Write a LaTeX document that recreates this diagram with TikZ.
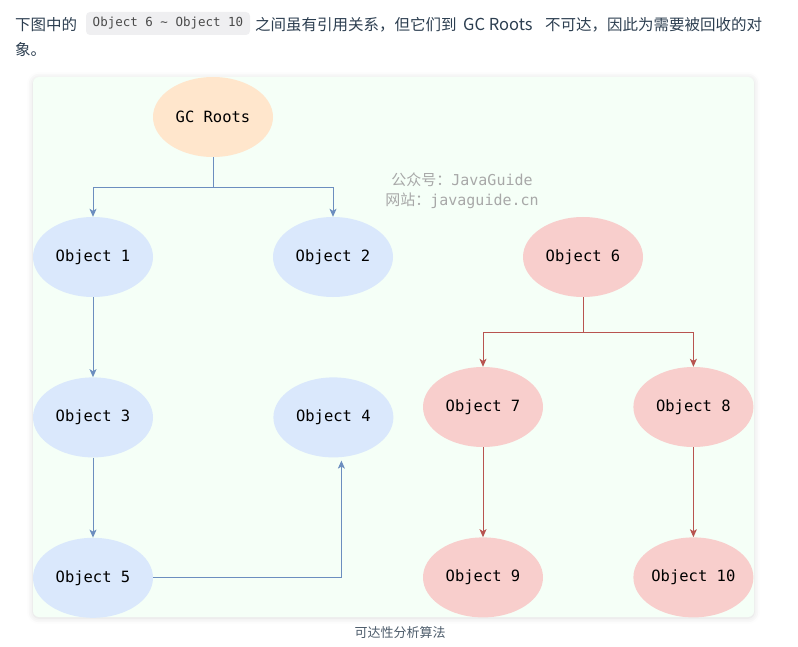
\documentclass[tikz,border=0pt]{standalone}
\usepackage{fontspec}
\usepackage{tikz}
\usetikzlibrary{
  arrows.meta,
  positioning,
  shapes.geometric,
  shadows.blur
}
\newfontfamily\cjkfont{Noto Sans CJK SC}
\newfontfamily\objfont{DejaVu Sans Mono}
\definecolor{bodytext}{HTML}{2C3E50}
\definecolor{codebg}{HTML}{EFEFF1}
\definecolor{codetext}{HTML}{4A4A4A}
\definecolor{panelbg}{HTML}{F5FFF7}
\definecolor{rootfill}{HTML}{FFE6CC}
\definecolor{bluefill}{HTML}{DAE8FC}
\definecolor{blueline}{HTML}{6C8EBF}
\definecolor{redfill}{HTML}{F8CECC}
\definecolor{redline}{HTML}{B85450}
\definecolor{watermark}{HTML}{A8A8A8}

\begin{document}
\begin{tikzpicture}[
  x=1pt, y=1pt,
  node distance=80pt and 120pt,
  para/.style={inner sep=0pt, anchor=base west, text=bodytext, font=\cjkfont\fontsize{15.5}{20}\selectfont},
  obj/.style={ellipse, minimum width=120pt, minimum height=80pt, inner xsep=-8pt, inner ysep=0pt, font=\objfont\fontsize{15.5}{18}\selectfont},
  root/.style={obj, fill=rootfill},
  live/.style={obj, fill=bluefill},
  dead/.style={obj, fill=redfill},
  livearrow/.style={draw=blueline, line width=1pt, -{Stealth[length=8pt, width=7pt, inset=2pt]}},
  deadarrow/.style={draw=redline, line width=1pt, -{Stealth[length=8pt, width=7pt, inset=2pt]}}
]
\useasboundingbox (0,0) rectangle (798,-647);

% text above the figure
\node[para] (intro1) at (15,-30.5) {下图中的};
\node[fill=codebg, rounded corners=4pt, minimum width=164pt, minimum height=23pt, inner sep=0pt,
      text=codetext, font=\objfont\fontsize{12.5}{14}\selectfont] (code) at (168,-23.5) {Object 6 \string~ Object 10};
\node[para] (intro2) at (255,-30.5) {之间虽有引用关系，但它们到};
\node[para, font=\cjkfont\fontsize{16.5}{20}\selectfont] (intro3) at (463,-30.5) {GC Roots};
\node[para] (intro4) at (545,-30.5) {不可达，因此为需要被回收的对};
\node[para] (intro5) at (15,-55.5) {象。};

% figure panel
\fill[panelbg, rounded corners=6pt, blur shadow={shadow xshift=0pt, shadow yshift=-1pt, shadow blur radius=6pt, shadow opacity=14}]
  (33,-77) rectangle (754,-617);

\node[align=center, text=watermark, font=\fontsize{15}{20}\selectfont] (mark) at (462,-191)
  {{\cjkfont 公众号：}{\objfont JavaGuide}\\{\cjkfont 网站：}{\objfont javaguide.cn}};

% reachable objects
\node[root] (gcroots) at (213,-117) {GC Roots};
\node[live] (obj1) at (93,-257) {Object 1};
\node[live] (obj2) at (333,-257) {Object 2};
\node[live, below=of obj1] (obj3) {Object 3};
\node[live, right=of obj3] (obj4) {Object 4};
\node[live, below=of obj3] (obj5) {Object 5};

% unreachable objects
\node[dead] (obj6) at (583,-257) {Object 6};
\node[dead] (obj7) at (483,-407) {Object 7};
\node[dead, right=90pt of obj7] (obj8) {Object 8};
\node[dead, below=90pt of obj7] (obj9) {Object 9};
\node[dead, below=90pt of obj8] (obj10) {Object 10};

\draw[livearrow] (gcroots.south) -- ++(0,-30) -| (obj1.north);
\draw[livearrow] (gcroots.south) -- ++(0,-30) -| (obj2.north);
\draw[livearrow] (obj1) -- (obj3);
\draw[livearrow] (obj3) -- (obj5);
\draw[livearrow] (obj5.east) -| ([xshift=8pt, yshift=-3pt]obj4.south);

\draw[deadarrow] (obj6.south) -- ++(0,-35) -| (obj7.north);
\draw[deadarrow] (obj6.south) -- ++(0,-35) -| (obj8.north);
\draw[deadarrow] (obj7) -- (obj9);
\draw[deadarrow] (obj8) -- (obj10);

\node[text=bodytext!85, font=\cjkfont\fontsize{13}{16}\selectfont] (caption) at (400,-633) {可达性分析算法};
\end{tikzpicture}
\end{document}
